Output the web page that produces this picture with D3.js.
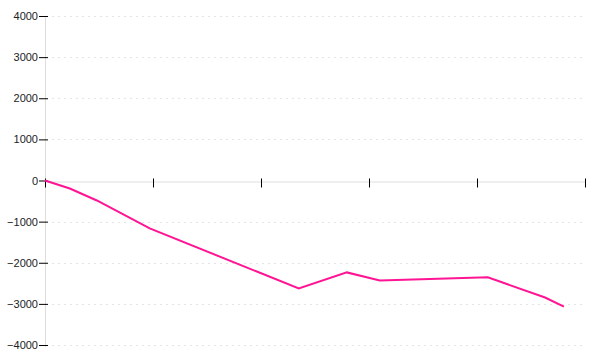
<!DOCTYPE html>
<html>
<head>
<meta charset="utf-8">
<script src="https://cdn.jsdelivr.net/npm/d3@7"></script>
<style>
  body { margin: 0; background: #fff; }
  svg { display: block; }
  .tick text { font-family: "Liberation Sans", Arial, sans-serif; font-size: 11px; fill: #222; }
</style>
</head>
<body>
<div id="chart"></div>
<script>
// values
var xValues = [0, 4.6, 9.6, 19.4, 47.0, 55.9, 62.0, 82.0, 92.6, 96.1];
var yValues = [0, -195, -486, -1165, -2625, -2235, -2430, -2355, -2845, -3065];
var yTicks = [-4000, -3000, -2000, -1000, 0, 1000, 2000, 3000, 4000];
var xTicks = [0, 20, 40, 60, 80, 100];

var width = 600, height = 360;
var plotLeft = 45, plotRight = 585, plotTop = 16, plotBottom = 345;

var svg = d3.select("#chart").append("svg")
    .attr("width", width)
    .attr("height", height);

var x = d3.scaleLinear().domain([0, 100]).range([plotLeft, plotRight]);
var y = d3.scaleLinear().domain([-4000, 4000]).range([plotBottom, plotTop]);

// dashed grid
svg.append("g")
    .selectAll("line")
    .data(yTicks.filter(function(d) { return d !== 0; }))
    .enter().append("line")
    .attr("x1", plotLeft + 7)
    .attr("x2", plotRight)
    .attr("y1", function(d) { return Math.round(y(d)) + 0.5; })
    .attr("y2", function(d) { return Math.round(y(d)) + 0.5; })
    .attr("stroke", "#e4e4e4")
    .attr("stroke-dasharray", "2,4");

// y axis line
svg.append("line")
    .attr("x1", plotLeft + 0.5).attr("x2", plotLeft + 0.5)
    .attr("y1", plotTop).attr("y2", plotBottom + 2)
    .attr("stroke", "#ddd");

// x axis (zero line)
var xAxis = svg.append("g")
    .attr("transform", "translate(0," + (Math.round(y(0)) + 0.5) + ")")
    .call(d3.axisBottom(x).tickValues(xTicks).tickSize(6).tickSizeOuter(0).tickFormat(""));
xAxis.select(".domain").attr("stroke", "#ddd");
xAxis.selectAll(".tick line").attr("y1", -3).attr("stroke", "#000");

var yAxis = svg.append("g")
    .attr("transform", "translate(" + plotLeft + ",0)")
    .call(d3.axisLeft(y).tickValues(yTicks).tickSize(6).tickPadding(1).tickFormat(d3.format("d")));
yAxis.select(".domain").remove();
yAxis.selectAll(".tick line").attr("x1", 3).attr("stroke", "#000");

// the line
var line = d3.line()
    .x(function(d, i) { return x(xValues[i]); })
    .y(function(d) { return y(d); });

svg.append("path")
    .datum(yValues)
    .attr("fill", "none")
    .attr("stroke", "#ff1493")
    .attr("stroke-width", 2)
    .attr("d", line);
</script>
</body>
</html>
